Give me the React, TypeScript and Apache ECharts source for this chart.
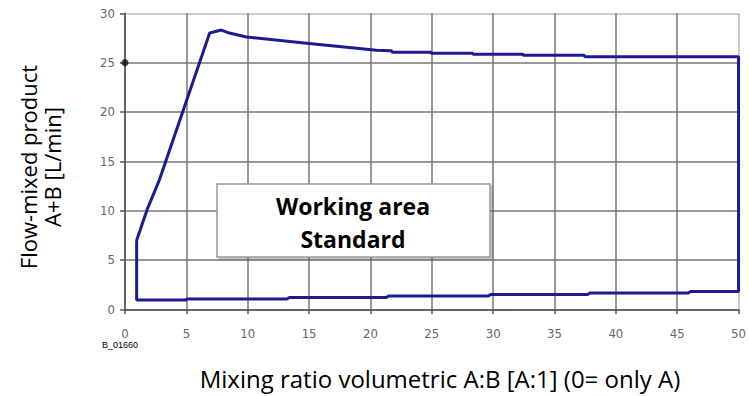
import React, { useEffect, useRef } from "react";
import * as echarts from "echarts";

const xTicks = [0, 5, 10, 15, 20, 25, 30, 35, 40, 45, 50];
const yTicks = [0, 5, 10, 15, 20, 25, 30];

// closed outline of the working area: [ratio, flow]
const ratioValues = [
  0.95, 0.95, 5, 5, 13.2, 13.4, 21.3, 21.5, 29.6, 29.8, 37.7, 37.9, 45.9, 46.1, 50, 50,
  37.5, 37.4, 32.5, 32.4, 28.4, 28.3, 25, 24.9, 21.8, 21.7, 20.5, 15, 9.9, 8.5, 7.85, 6.9,
  2.8, 1.8, 0.95,
];
const flowValues = [
  7.0, 0.95, 0.95, 1.05, 1.05, 1.2, 1.2, 1.35, 1.35, 1.5, 1.5, 1.65, 1.65, 1.8, 1.8, 25.6,
  25.6, 25.75, 25.75, 25.85, 25.85, 25.95, 25.95, 26.05, 26.05, 26.2, 26.25, 26.95, 27.6, 28.0, 28.3, 28.0,
  13.1, 10.1, 7.0,
];
const markerPoint = [[0, 25]];

const xTitle = "Mixing ratio volumetric A:B [A:1] (0= only A)";
const yTitleLine1 = "Flow-mixed product";
const yTitleLine2 = "A+B [L/min]";
const boxLine1 = "Working area";
const boxLine2 = "Standard";
const codeLabel = "B_01660";

export default function App() {
  const ref = useRef<HTMLDivElement>(null);
  useEffect(() => {
    if (!ref.current) return;
    const chart = echarts.init(ref.current, null, { renderer: "svg" });
    const outline = ratioValues.map((x, i) => [x, flowValues[i]]);
    const tickFont = { color: "#666", fontSize: 13, fontFamily: "DejaVu Sans Condensed" };
    const dark = "#777";
    const light = "#bdbdbd";
    chart.setOption({
      animation: false,
      backgroundColor: "#fff",
      grid: { left: 125, right: 8, top: 13.3, bottom: 86.7, containLabel: false },
      xAxis: {
        type: "value",
        min: 0,
        max: 50,
        interval: 5,
        axisLine: { show: true, lineStyle: { color: "#555", width: 1.5 } },
        axisTick: { show: true, length: 5, lineStyle: { color: "#555", width: 1.5 } },
        axisLabel: { ...tickFont, margin: 18, formatter: (v: number) => (xTicks.includes(v) ? String(v) : "") },
        splitLine: {
          show: true,
          lineStyle: { color: [dark, dark, dark, dark, dark, dark, dark, dark, dark, dark, light], width: 1.5 },
        },
      },
      yAxis: {
        type: "value",
        min: 0,
        max: 30,
        interval: 5,
        axisLine: { show: true, lineStyle: { color: "#555", width: 1.5 } },
        axisTick: { show: true, length: 5, lineStyle: { color: "#555", width: 1.5 } },
        axisLabel: { ...tickFont, margin: 10, formatter: (v: number) => (yTicks.includes(v) ? String(v) : "") },
        splitLine: {
          show: true,
          lineStyle: { color: [dark, dark, dark, dark, dark, dark, light], width: 1.5 },
        },
      },
      series: [
        {
          type: "line",
          data: outline,
          showSymbol: false,
          symbol: "none",
          lineStyle: { color: "#1c1c90", width: 3 },
          z: 3,
        },
        {
          type: "scatter",
          data: markerPoint,
          symbolSize: 7,
          itemStyle: { color: "#111" },
          z: 4,
        },
      ],
      graphic: [
        {
          type: "rect",
          shape: { x: 217, y: 184, width: 273, height: 73 },
          style: { fill: "#fff", stroke: "#9a9a9a", lineWidth: 1.5, shadowColor: "rgba(0,0,0,0.25)", shadowOffsetX: 2, shadowOffsetY: 2, shadowBlur: 2 },
          z: 10,
        },
        {
          type: "text",
          x: 353,
          y: 206,
          style: { text: boxLine1, fontSize: 23, fontWeight: "bold", fontFamily: "Open Sans", fill: "#000", align: "center", verticalAlign: "middle" },
          z: 11,
        },
        {
          type: "text",
          x: 353,
          y: 239,
          style: { text: boxLine2, fontSize: 23, fontWeight: "bold", fontFamily: "Open Sans", fill: "#000", align: "center", verticalAlign: "middle" },
          z: 11,
        },
        {
          type: "text",
          x: 440,
          y: 378,
          style: { text: xTitle, fontSize: 24, fontFamily: "Open Sans", fill: "#000", align: "center", verticalAlign: "middle" },
        },
        {
          type: "text",
          x: 28,
          y: 167,
          rotation: Math.PI / 2,
          style: { text: yTitleLine1, fontSize: 22, fontFamily: "Open Sans", fill: "#000", align: "center", verticalAlign: "middle" },
        },
        {
          type: "text",
          x: 52,
          y: 167,
          rotation: Math.PI / 2,
          style: { text: yTitleLine2, fontSize: 22, fontFamily: "Open Sans", fill: "#000", align: "center", verticalAlign: "middle" },
        },
        {
          type: "text",
          x: 120,
          y: 345,
          style: { text: codeLabel, fontSize: 9, fontFamily: "Liberation Sans", fill: "#000", align: "center", verticalAlign: "middle" },
        },
      ],
    });
    return () => chart.dispose();
  }, []);
  return <div ref={ref} style={{ position: "absolute", left: 0, top: 0, width: 749, height: 396 }} />;
}
